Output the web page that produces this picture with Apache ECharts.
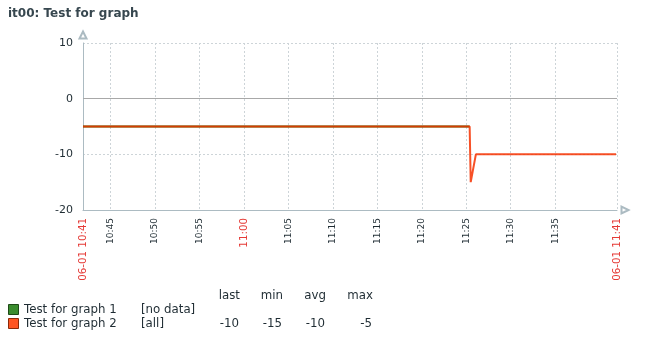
<!DOCTYPE html>
<html>
<head>
<meta charset="utf-8">
<script src="https://cdn.jsdelivr.net/npm/echarts@6/dist/echarts.min.js"></script>
<style>html,body{margin:0;padding:0;background:#fff}#c{width:646px;height:337px}</style>
</head>
<body>
<div id="c"></div>
<script>
// x values are minutes after 10:00 on 06-01
const xMin = 41.9;
const xMax = 101.95;
const xTickValues = [41.9, 45, 50, 55, 60, 65, 70, 75, 80, 85, 90, 95, 101.95];
const xTickLabels = ['06-01 10:41','10:45','10:50','10:55','11:00','11:05','11:10','11:15','11:20','11:25','11:30','11:35','06-01 11:41'];
const redTickLabels = ['06-01 10:41','11:00','06-01 11:41'];
const yTicks = [-20, -10, 0, 10];
const seriesNames = ['Test for graph 1', 'Test for graph 2'];
const series1Data = [[41.9, -5], [85.38, -5]];
const series2Data = [[41.9, -5], [85.38, -5], [85.5, -15], [86.08, -10], [101.85, -10]];
const legendScope = ['[no data]', '[all]'];
const statHeaders = ['last', 'min', 'avg', 'max'];
const series2Stats = ['-10', '-15', '-10', '-5'];

const lineColors = ['#1A7C11', '#F63100'];
const swatchFill = ['#3A8C2E', '#FF5522'];
const swatchStroke = ['#1E4A17', '#8A2A0A'];
const textColor = '#1F2C33';
const axisColor = '#ACBBC2';
const legendFont = '11.8px "DejaVu Sans"';

function labelFor(v) {
  let best = 0, bd = Infinity;
  xTickValues.forEach((t, i) => { const d = Math.abs(t - v); if (d < bd) { bd = d; best = i; } });
  return xTickLabels[best];
}

const chart = echarts.init(document.getElementById('c'), null, {renderer: 'canvas'});

const graphics = [];
const colRight = [240, 283, 326, 373];
statHeaders.forEach((h, i) => {
  graphics.push({type: 'text', style: {text: h, x: colRight[i], y: 296, align: 'right', verticalAlign: 'middle', fill: textColor, font: legendFont}});
});
seriesNames.forEach((n, r) => {
  const y = 310 + r * 14;
  graphics.push({type: 'rect', shape: {x: 8.5, y: y - 5.5, width: 10, height: 10}, style: {fill: swatchFill[r], stroke: swatchStroke[r], lineWidth: 1}});
  graphics.push({type: 'text', style: {text: n, x: 24, y: y, verticalAlign: 'middle', fill: textColor, font: legendFont}});
  graphics.push({type: 'text', style: {text: legendScope[r], x: 141, y: y, verticalAlign: 'middle', fill: textColor, font: legendFont}});
});
series2Stats.forEach((s, i) => {
  graphics.push({type: 'text', style: {text: s, x: colRight[i] - 1, y: 324, align: 'right', verticalAlign: 'middle', fill: textColor, font: legendFont}});
});

chart.setOption({
  animation: false,
  backgroundColor: '#fff',
  title: {
    text: 'it00: Test for graph', left: 8, top: 8, padding: 0,
    textStyle: {fontFamily: 'DejaVu Sans', fontSize: 12, fontWeight: 'bold', color: '#37474F'}
  },
  grid: {left: 83, right: 29, top: 43, bottom: 127, containLabel: false},
  xAxis: {
    type: 'value', min: xMin, max: xMax,
    axisLine: {show: true, onZero: false, lineStyle: {color: axisColor, width: 1}, symbol: ['none', 'emptyTriangle'], symbolSize: [7, 7], symbolOffset: [0, 8]},
    axisTick: {show: false, customValues: xTickValues},
    axisLabel: {
      customValues: xTickValues, rotate: 90, margin: 8,
      fontFamily: 'DejaVu Sans', fontSize: 9, color: textColor,
      formatter: v => { const l = labelFor(v); return redTickLabels.includes(l) ? '{r|' + l + '}' : l; },
      rich: {r: {color: '#E53935', fontFamily: 'DejaVu Sans', fontSize: 10.3}}
    },
    splitLine: {show: true, lineStyle: {color: '#CDD4D8', type: [2, 2], width: 1}}
  },
  yAxis: {
    type: 'value', min: yTicks[0], max: yTicks[yTicks.length - 1], interval: 10,
    axisLine: {show: true, onZero: false, lineStyle: {color: axisColor, width: 1}, symbol: ['none', 'emptyTriangle'], symbolSize: [7, 7], symbolOffset: [0, 8]},
    axisTick: {show: false},
    axisLabel: {margin: 10, fontFamily: 'DejaVu Sans', fontSize: 11, color: textColor},
    splitLine: {show: true, lineStyle: {color: '#CDD4D8', type: [2, 2], width: 1}}
  },
  series: [
    {
      name: seriesNames[0], type: 'line', data: series1Data, showSymbol: false, symbol: 'none',
      lineStyle: {color: lineColors[0], width: 2}, z: 2,
      markLine: {silent: true, symbol: 'none', label: {show: false}, lineStyle: {color: '#A8A8A8', type: 'solid', width: 1}, data: [{yAxis: 0}]}
    },
    {
      name: seriesNames[1], type: 'line', data: series2Data, showSymbol: false, symbol: 'none',
      lineStyle: {color: lineColors[1], width: 2, opacity: 0.85}, z: 3
    }
  ],
  graphic: graphics
});
</script>
</body>
</html>
